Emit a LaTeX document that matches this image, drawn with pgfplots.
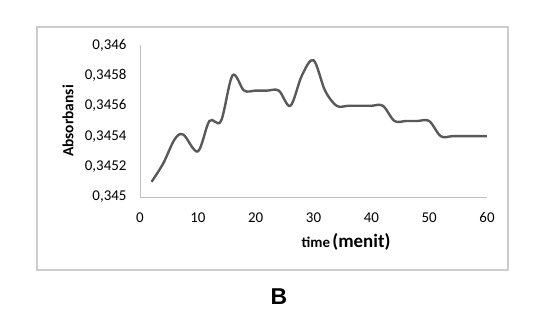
\documentclass[border=0pt]{standalone}
\usepackage{fontspec}
\setmainfont{Carlito}
\newfontfamily\arialfont{Liberation Sans}
\usepackage{pgfplots}
\pgfplotsset{compat=1.18}
\definecolor{curve}{HTML}{595959}
\definecolor{axgray}{HTML}{BFBFBF}
\definecolor{txt}{HTML}{404040}
\begin{document}
\begin{tikzpicture}
\path[use as bounding box] (0,0) rectangle (547bp,318bp);
\draw[axgray!80, line width=1.3bp] (37bp,48bp) rectangle (508bp,291bp);
\begin{axis}[
  at={(140bp,121bp)}, anchor=south west,
  scale only axis, width=347bp, height=152bp,
  xmin=0, xmax=60, ymin=0.345, ymax=0.346,
  axis x line=bottom, axis y line=left,
  axis line style={axgray, line width=1bp, -},
  xtick={0,10,...,60},
  ytick={0.345,0.3452,0.3454,0.3456,0.3458,0.346},
  major tick length=0pt,
  /pgf/number format/assume math mode=true,
  scaled y ticks=false,
  ticklabel style={font=\fontsize{15}{18}\selectfont, text=black},
  yticklabel style={xshift=-10bp, /pgf/number format/use comma, /pgf/number format/fixed, /pgf/number format/precision=4, /pgf/number format/1000 sep={}},
  xticklabel style={yshift=-12bp},
  xlabel={\textbf{\fontsize{15}{18}\selectfont time} \textbf{\fontsize{19}{22}\selectfont (menit)}},
  xlabel style={at={(axis description cs:0.594,-0.296)}, anchor=center},
  ylabel={\textbf{\fontsize{15.5}{18}\selectfont Absorbansi}},
  ylabel style={at={(axis description cs:-0.2075,0.5)}, anchor=center},
  clip=false,
]
\addplot[curve, line width=2.4bp, smooth, tension=0.55] coordinates {
(2,0.3451) (4,0.34522) (6,0.34538) (7.5,0.34541) (10,0.3453) (12,0.3455) (14,0.3455)
(16,0.3458) (18,0.3457) (20,0.3457) (22,0.3457) (24,0.3457) (26,0.3456) (28,0.3458)
(30,0.3459) (32,0.3457) (34,0.3456) (36,0.3456) (38,0.3456) (40,0.3456) (42,0.3456)
(44,0.3455) (46,0.3455) (48,0.3455) (50,0.3455) (52,0.3454) (54,0.3454) (56,0.3454)
(58,0.3454) (60,0.3454)
};
\end{axis}
\node[font=\arialfont\bfseries\fontsize{23}{26}\selectfont] at (279bp,21bp) {B};
\end{tikzpicture}
\end{document}
